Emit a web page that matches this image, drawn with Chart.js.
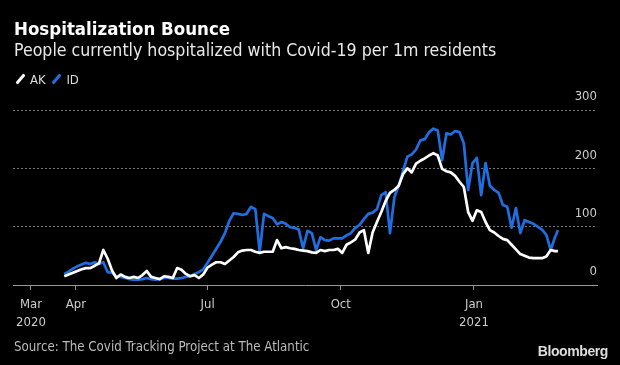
<!DOCTYPE html>
<html>
<head>
<meta charset="utf-8">
<script src="https://cdn.jsdelivr.net/npm/chart.js@4.4.0/dist/chart.umd.min.js"></script>
<style>
  html, body { margin: 0; padding: 0; background: #000; }
  body { width: 620px; height: 365px; position: relative; overflow: hidden; font-family: "DejaVu Sans Condensed", "DejaVu Sans", sans-serif; }
  #chart { position: absolute; left: 0; top: 0; }
  .txt { position: absolute; white-space: nowrap; }
  #title { left: 14px; top: 18px; font-size: 18.5px; font-weight: bold; color: #fff; }
  #subtitle { left: 14px; top: 40px; font-size: 17.6px; color: #e8e8e8; }
  #legend { left: 14px; top: 72px; font-size: 13px; color: #ddd; }
  #legend span.sw { display: inline-block; width: 3px; height: 12px; border-radius: 1px; transform: rotate(40deg); margin: 0 8px 0 5px; vertical-align: -1px; }
  #source { left: 14px; top: 339px; font-size: 13.2px; color: #bbb; }
  #brand { right: 12px; top: 343px; font-size: 14px; font-weight: bold; color: #ddd; font-family: "Liberation Sans", Arial, sans-serif; letter-spacing: -0.4px; }
</style>
</head>
<body>
<canvas id="chart" width="620" height="365"></canvas>
<div class="txt" id="title">Hospitalization Bounce</div>
<div class="txt" id="subtitle">People currently hospitalized with Covid-19 per 1m residents</div>
<div class="txt" id="legend"><span class="sw" style="background:#fff"></span>AK <span class="sw" style="background:#1f6fe0;margin-left:6px"></span>ID</div>
<div class="txt" id="source">Source: The Covid Tracking Project at The Atlantic</div>
<div class="txt" id="brand">Bloomberg</div>
<script>
// days since 2020-03-01
const days = [23, 26, 29, 32, 35, 38, 41, 44, 47, 50, 53, 56, 59, 62, 65, 68, 71, 74, 77, 80,
  83, 86, 89, 92, 95, 98, 101, 104, 107, 110, 113, 116, 119, 122, 125, 128, 131, 134, 137, 140,
  143, 146, 149, 152, 155, 158, 161, 164, 167, 170, 173, 176, 179, 182, 185, 188, 191, 194, 197, 200,
  203, 206, 209, 212, 215, 218, 221, 224, 227, 230, 233, 236, 239, 242, 245, 248, 251, 254, 257, 260,
  263, 266, 269, 272, 275, 278, 281, 284, 287, 290, 293, 296, 299, 302, 305, 308, 311, 314, 317, 320,
  323, 326, 329, 332, 335, 338, 341, 344, 347, 350, 353, 356, 359, 362, 364];

const akValues = [15, 18, 21, 24, 27, 29, 29, 33, 37, 60, 45, 25, 12, 18, 14, 12, 14, 12, 17, 24,
  14, 12, 10, 15, 14, 12, 29, 26, 19, 15, 17, 12, 18, 30, 35, 39, 39, 36, 42, 48,
  56, 59, 60, 60, 57, 55, 57, 57, 57, 77, 63, 65, 63, 62, 60, 59, 58, 56, 55, 60,
  58, 60, 60, 62, 55, 69, 73, 78, 90, 94, 55, 90, 108, 125, 144, 158, 163, 170, 190, 200,
  193, 208, 213, 217, 222, 226, 222, 199, 195, 193, 187, 177, 168, 125, 110, 128, 125, 108, 94, 90,
  84, 79, 77, 69, 61, 53, 50, 47, 46, 46, 46, 49, 60, 58, 58];

const idValues = [19, 23, 28, 32, 35, 38, 36, 39, 36, 39, 22, 21, 15, 14, 12, 10, 9, 9, 10, 12,
  10, 9, 10, 12, 12, 11, 11, 12, 14, 15, 19, 22, 27, 38, 50, 62, 74, 89, 110, 123,
  122, 120, 122, 134, 130, 57, 122, 118, 115, 104, 108, 105, 99, 98, 95, 63, 93, 89, 60, 82,
  77, 76, 80, 80, 80, 85, 89, 98, 103, 113, 122, 124, 130, 154, 159, 89, 150, 170, 195, 220,
  224, 232, 248, 250, 262, 268, 265, 214, 260, 258, 264, 262, 243, 163, 209, 218, 154, 209, 170, 163,
  158, 137, 134, 98, 132, 89, 111, 108, 105, 100, 95, 86, 60, 82, 94];

const tickDays = [0, 31, 122, 214, 306];
const tickLabels = [['Mar', '2020'], ['Apr'], ['Jul'], ['Oct'], ['Jan', '2021']];
const yTicks = [0, 100, 200, 300];

const toPoints = vals => vals.map((v, i) => ({ x: days[i], y: v }));

new Chart(document.getElementById('chart'), {
  type: 'line',
  data: {
    datasets: [
      { label: 'AK', data: toPoints(akValues), borderColor: '#ffffff', borderWidth: 2.7 },
      { label: 'ID', data: toPoints(idValues), borderColor: '#1f6fe0', borderWidth: 2.7 }
    ]
  },
  options: {
    responsive: false,
    animation: false,
    elements: { point: { radius: 0 }, line: { tension: 0, borderJoinStyle: 'round' } },
    layout: { padding: { left: 13, right: 23, top: 110, bottom: 36 } },
    plugins: { legend: { display: false }, tooltip: { enabled: false } },
    scales: {
      x: {
        type: 'linear',
        min: -12.4,
        max: 391,
        afterBuildTicks: s => { s.ticks = tickDays.map(v => ({ value: v })); },
        afterFit: s => { s.height = 44; },
        ticks: {
          color: '#ccc',
          font: { family: '"DejaVu Sans Condensed", "DejaVu Sans", sans-serif', size: 13, lineHeight: 1.35 },
          padding: 6,
          maxRotation: 0,
          autoSkip: false,
          callback: v => tickLabels[tickDays.indexOf(v)]
        },
        grid: { drawOnChartArea: false, drawTicks: true, tickLength: 5, color: '#999' },
        border: { display: true, color: '#999', width: 1 }
      },
      y: {
        position: 'right',
        min: 0,
        max: 300,
        afterBuildTicks: s => { s.ticks = yTicks.map(v => ({ value: v })); },
        afterFit: s => { s.width = 0; },
        ticks: {
          mirror: true,
          padding: 0,
          labelOffset: -13,
          color: '#ccc',
          font: { family: '"DejaVu Sans Condensed", "DejaVu Sans", sans-serif', size: 13 }
        },
        grid: { drawTicks: false, color: c => c.tick && c.tick.value === 0 ? 'rgba(0,0,0,0)' : '#777' },
        border: { display: false, dash: [2, 2] }
      }
    }
  }
});
</script>
</body>
</html>
